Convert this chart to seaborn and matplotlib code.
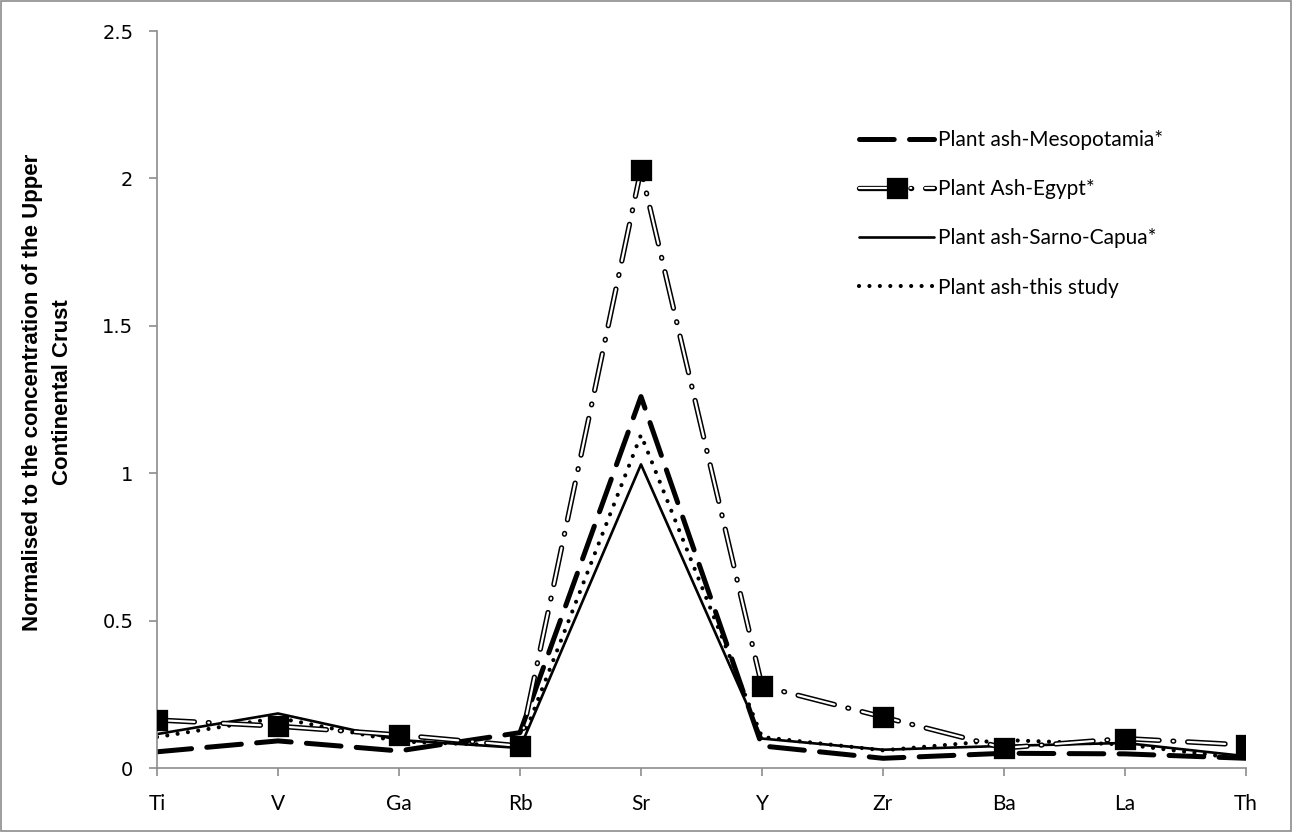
import numpy as np
import pandas as pd
import matplotlib
matplotlib.use("Agg")
import matplotlib.pyplot as plt
import matplotlib.patheffects as pe
import seaborn as sns

# Element order along the x axis
elements = ["Ti", "V", "Ga", "Rb", "Sr", "Y", "Zr", "Ba", "La", "Th"]

# Normalised to upper continental crust
mesopotamia = [0.055, 0.092, 0.058, 0.120, 1.26, 0.075, 0.033, 0.050, 0.048, 0.033]
egypt = [0.163, 0.142, 0.112, 0.075, 2.03, 0.278, 0.173, 0.068, 0.100, 0.078]
sarnoCapua = [0.115, 0.185, 0.095, 0.068, 1.03, 0.100, 0.062, 0.075, 0.085, 0.040]
thisStudy = [0.105, 0.170, 0.090, 0.075, 1.13, 0.105, 0.060, 0.095, 0.080, 0.030]

seriesNames = [
    "Plant ash-Mesopotamia*",
    "Plant Ash-Egypt*",
    "Plant ash-Sarno-Capua*",
    "Plant ash-this study",
]

sns.set_theme(style="white")
plt.rcParams["font.family"] = ["Lato", "DejaVu Sans"]
plt.rcParams["lines.scale_dashes"] = False
plt.rcParams["text.color"] = "black"
plt.rcParams["axes.labelcolor"] = "black"

fig = plt.figure(figsize=(12.92, 8.32), dpi=100)
ax = fig.add_axes([0.1215, 0.0769, 0.8429, 0.8858])
xPos = np.arange(len(elements))

# Mesopotamia: thick long dashes
sns.lineplot(x=xPos, y=mesopotamia, ax=ax, color="black", linewidth=3.6,
             label=seriesNames[0], sort=False)
ax.lines[-1].set_dashes((25, 11))
ax.lines[-1].set_dash_capstyle("round")

# Egypt: double (outlined) dash-dot line with squares
sns.lineplot(x=xPos, y=egypt, ax=ax, color="white", linewidth=1.6,
             label=seriesNames[1], sort=False, marker="s", markersize=11.5,
             markerfacecolor="black", markeredgecolor="black")
eg = ax.lines[-1]
eg.set_dashes((27, 10, 0.6, 10))
eg.set_dash_capstyle("round")
eg.set_path_effects([pe.Stroke(linewidth=3.8, foreground="black"), pe.Normal()])
eg.set_zorder(3)

# Sarno-Capua: solid
sns.lineplot(x=xPos, y=sarnoCapua, ax=ax, color="black", linewidth=1.9,
             label=seriesNames[2], sort=False)

# This study: round dots
sns.lineplot(x=xPos, y=thisStudy, ax=ax, color="black", linewidth=3.0,
             label=seriesNames[3], sort=False)
ax.lines[-1].set_dashes((0.01, 7.5))
ax.lines[-1].set_dash_capstyle("round")

ax.set_xlim(0, len(elements) - 1)
ax.set_ylim(0, 2.5)
ax.set_xticks(xPos)
ax.set_xticklabels(elements, fontsize=15)
ax.set_yticks([0, 0.5, 1, 1.5, 2, 2.5])
ax.set_yticklabels(["0", "0.5", "1", "1.5", "2", "2.5"], fontsize=14,
                   family="DejaVu Sans")

for side in ["top", "right"]:
    ax.spines[side].set_visible(False)
for side in ["left", "bottom"]:
    ax.spines[side].set_color("#8c8c8c")
    ax.spines[side].set_linewidth(1.2)
ax.tick_params(axis="both", which="major", direction="out", length=6, width=1.2,
               color="#8c8c8c", labelcolor="black", left=True, bottom=True)
ax.tick_params(axis="x", pad=13)
ax.tick_params(axis="y", pad=11)

ax.set_ylabel("Normalised to the concentration of the Upper\nContinental Crust",
              fontsize=16, fontweight="bold", linespacing=1.55, color="black",
              family=["Liberation Sans", "DejaVu Sans"])
ax.yaxis.set_label_coords(-0.077, 0.51)

leg = ax.legend(loc="center left", bbox_to_anchor=(0.645, 0.752), frameon=False,
                fontsize=15, handlelength=3.6, handletextpad=0.15,
                labelspacing=1.4, borderaxespad=0, borderpad=0)
for txt in leg.get_texts():
    txt.set_color("black")

# Outer chart border
fig.patches.append(plt.Rectangle((0.001, 0.001), 0.998, 0.998, transform=fig.transFigure,
                                 fill=False, edgecolor="#8c8c8c", linewidth=1.2))

fig.savefig("out.png", dpi=100)
